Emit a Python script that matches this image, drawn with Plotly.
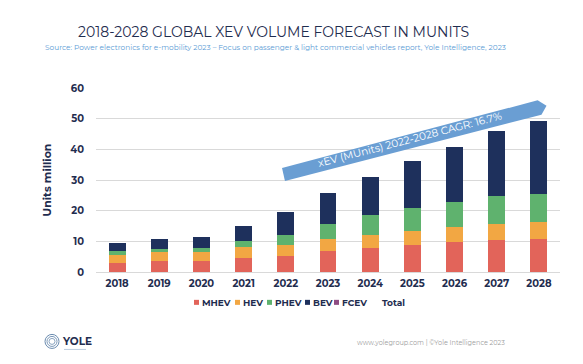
import plotly.graph_objects as go

years = [2018, 2019, 2020, 2021, 2022, 2023, 2024, 2025, 2026, 2027, 2028]
mhev = [2.9, 3.5, 3.7, 4.7, 5.1, 6.9, 7.9, 8.7, 9.7, 10.4, 10.8]
hev = [2.8, 2.9, 2.8, 3.4, 3.6, 4.0, 4.3, 4.8, 5.0, 5.3, 5.4]
phev = [1.2, 1.2, 1.4, 1.9, 3.5, 4.9, 6.3, 7.5, 8.2, 9.1, 9.1]
bev = [2.5, 3.1, 3.6, 4.9, 7.3, 9.8, 12.6, 15.1, 17.9, 21.1, 24.1]
fcev = [0, 0, 0, 0, 0, 0, 0, 0, 0, 0, 0]
total = [a + b + c + d + e for a, b, c, d, e in zip(mhev, hev, phev, bev, fcev)]

series = [
    ("MHEV", mhev, "#E2645A"),
    ("HEV", hev, "#F2A743"),
    ("PHEV", phev, "#5FB26E"),
    ("BEV", bev, "#1E305C"),
    ("FCEV", fcev, "#8E4C82"),
]

NAVY = "#1F2D4F"
FONT = "Montserrat, 'Noto Sans', 'Open Sans', sans-serif"

fig = go.Figure()
for name, vals, col in series:
    fig.add_trace(go.Bar(x=years, y=vals, name=name, marker=dict(color=col, line=dict(width=0))))
fig.add_trace(go.Scatter(x=years, y=total, name="Total", mode="markers",
                         marker=dict(color="rgba(0,0,0,0)", size=1), hoverinfo="y"))

# page body has an 8px margin; compensate so page coordinates match the reference
OFF = 8
W, H = 575, 356
L, R, T, B = 88, 23, 80, 92.3
PW = W - L - R
PH = H - T - B

def px(xp):
    return (xp - OFF - L) / PW

def py(yp):
    return (H - B - (yp - OFF)) / PH

fig.update_layout(
    width=W, height=H,
    margin=dict(l=L, r=R, t=T, b=B, autoexpand=False),
    barmode="stack", bargap=0.6,
    plot_bgcolor="white", paper_bgcolor="white",
    font=dict(family=FONT, color=NAVY, size=11),
    showlegend=False,
    xaxis=dict(range=[2017.5, 2028.5], tickvals=years, ticktext=[str(y) for y in years],
               showgrid=False, zeroline=False, showline=False, ticks="", ticklabelstandoff=4,
               tickfont=dict(size=10, color=NAVY, family=FONT, weight="bold")),
    yaxis=dict(range=[0, 60], dtick=10, showgrid=True, gridcolor="#D9D9D9", gridwidth=1.2,
               zeroline=True, zerolinecolor="#D9D9D9", zerolinewidth=1.2, showline=False,
               ticks="", ticklabelstandoff=11,
               tickfont=dict(size=10, color=NAVY, family=FONT, weight="bold"),
               title=dict(text="Units million", standoff=16,
                          font=dict(size=11, color=NAVY, family=FONT, weight="bold"))),
)

# Custom compact legend
legend_items = [("MHEV", "#E2645A", 194), ("HEV", "#F2A743", 235), ("PHEV", "#5FB26E", 267),
                ("BEV", "#1E305C", 305), ("FCEV", "#8E4C82", 334)]
LY = 302
for name, col, x0 in legend_items:
    fig.add_shape(type="rect", xref="paper", yref="paper",
                  x0=px(x0), x1=px(x0 + 5), y0=py(LY + 2.5), y1=py(LY - 2.5),
                  fillcolor=col, line=dict(width=0))
    fig.add_annotation(x=px(x0 + 5.5), y=py(LY), xref="paper", yref="paper", xanchor="left",
                       yanchor="middle", text=f"<b>{name}</b>", showarrow=False,
                       font=dict(size=9, color=NAVY, family=FONT))
fig.add_annotation(x=px(380), y=py(LY), xref="paper", yref="paper", xanchor="left",
                   yanchor="middle", text="<b>Total</b>", showarrow=False,
                   font=dict(size=9, color=NAVY, family=FONT))

# CAGR arrow (in data coordinates of the numeric year axis)
arrow_pts = [(2021.98, 29.7), (2021.91, 33.9), (2027.97, 56.0), (2028.18, 54.2), (2028.06, 51.3)]
path = "M " + " L ".join(f"{x},{y}" for x, y in arrow_pts) + " Z"
fig.add_shape(type="path", path=path, xref="x", yref="y",
              fillcolor="#6A9ED3", line=dict(width=0), layer="above")
fig.add_annotation(x=2024.95, y=43.3, xref="x", yref="y", text="xEV (MUnits) 2022-2028 CAGR: 16.7%",
                   showarrow=False, textangle=-14.6,
                   font=dict(size=10.5, color="white", family=FONT))

# Title and subtitle
fig.add_annotation(x=px(273), y=py(32), xref="paper", yref="paper", yanchor="middle",
                   text="2018-2028 GLOBAL XEV VOLUME FORECAST IN MUNITS", showarrow=False,
                   font=dict(size=14, color=NAVY, family=FONT))
fig.add_annotation(x=px(275), y=py(47.5), xref="paper", yref="paper", yanchor="middle",
                   text="Source: Power electronics for e-mobility 2023 \u2013 Focus on passenger & light commercial vehicles report, Yole Intelligence, 2023",
                   showarrow=False, font=dict(size=7.4, color="#5B9BD5", family=FONT))

# Footer
fig.add_annotation(x=px(507), y=py(343), xref="paper", yref="paper", xanchor="right", yanchor="middle",
                   text="www.yolegroup.com | \u00a9Yole Intelligence 2023", showarrow=False,
                   font=dict(size=6.5, color="#A0A0A0", family=FONT))
fig.add_annotation(x=px(60), y=py(341), xref="paper", yref="paper", xanchor="left", yanchor="middle",
                   text="<b>YOLE</b>", showarrow=False,
                   font=dict(size=10.5, color=NAVY, family=FONT))
for r, op in [(7, 0.9), (5, 0.8), (3, 0.7)]:
    fig.add_shape(type="circle", xref="paper", yref="paper",
                  x0=px(52 - r), x1=px(52 + r), y0=py(341 + r), y1=py(341 - r),
                  line=dict(color="#5B7FA8", width=1), opacity=op)
fig.add_shape(type="line", xref="paper", yref="paper", x0=px(64), x1=px(86), y0=py(349), y1=py(349),
              line=dict(color="#8FA9C6", width=0.6))

fig.write_html("out.html")
